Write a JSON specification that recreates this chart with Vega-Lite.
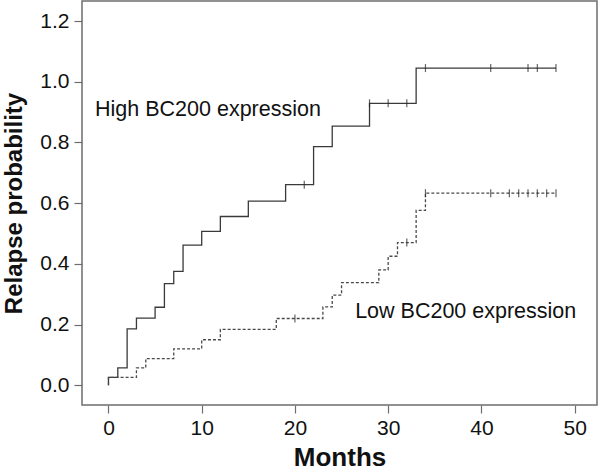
{
  "$schema": "https://vega.github.io/schema/vega-lite/v6.json",
  "autosize": "none",
  "width": 515,
  "height": 404,
  "padding": {"left": 82, "top": 1, "right": 4, "bottom": 65},
  "background": "white",
  "config": {
    "view": {"stroke": "#6e6e6e", "strokeWidth": 1.5},
    "font": "Liberation Sans",
    "axis": {"domain": false, "grid": false, "tickColor": "#6e6e6e", "tickSize": 8, "tickWidth": 1.2, "labelFont": "Liberation Sans", "labelFontSize": 21, "labelColor": "#111", "titleFont": "Liberation Sans", "titleFontWeight": "bold", "titleColor": "#111"}
  },
  "datasets": {
    "curves": [
      {"group": "High", "t": 0, "p": 0},
      {"group": "High", "t": 0, "p": 0.026},
      {"group": "High", "t": 1, "p": 0.057},
      {"group": "High", "t": 2, "p": 0.186},
      {"group": "High", "t": 3, "p": 0.221},
      {"group": "High", "t": 5, "p": 0.257},
      {"group": "High", "t": 6, "p": 0.335},
      {"group": "High", "t": 7, "p": 0.375},
      {"group": "High", "t": 8, "p": 0.462},
      {"group": "High", "t": 10, "p": 0.507},
      {"group": "High", "t": 12, "p": 0.556},
      {"group": "High", "t": 15, "p": 0.607},
      {"group": "High", "t": 19, "p": 0.661},
      {"group": "High", "t": 22, "p": 0.786},
      {"group": "High", "t": 24, "p": 0.854},
      {"group": "High", "t": 28, "p": 0.929},
      {"group": "High", "t": 33, "p": 1.045},
      {"group": "High", "t": 48, "p": 1.045},
      {"group": "Low", "t": 0, "p": 0},
      {"group": "Low", "t": 0, "p": 0.026},
      {"group": "Low", "t": 3, "p": 0.057},
      {"group": "Low", "t": 4, "p": 0.088},
      {"group": "Low", "t": 7, "p": 0.12},
      {"group": "Low", "t": 10, "p": 0.15},
      {"group": "Low", "t": 12, "p": 0.184},
      {"group": "Low", "t": 18, "p": 0.22},
      {"group": "Low", "t": 23, "p": 0.258},
      {"group": "Low", "t": 24, "p": 0.297},
      {"group": "Low", "t": 25, "p": 0.338},
      {"group": "Low", "t": 29, "p": 0.38},
      {"group": "Low", "t": 30, "p": 0.425},
      {"group": "Low", "t": 31, "p": 0.47},
      {"group": "Low", "t": 33, "p": 0.576},
      {"group": "Low", "t": 34, "p": 0.633},
      {"group": "Low", "t": 48, "p": 0.633}
    ],
    "censored": [
      {"group": "High", "t": 21, "p": 0.661},
      {"group": "High", "t": 28, "p": 0.929},
      {"group": "High", "t": 30, "p": 0.929},
      {"group": "High", "t": 32, "p": 0.929},
      {"group": "High", "t": 34, "p": 1.045},
      {"group": "High", "t": 41, "p": 1.045},
      {"group": "High", "t": 45, "p": 1.045},
      {"group": "High", "t": 46, "p": 1.045},
      {"group": "High", "t": 48, "p": 1.045},
      {"group": "Low", "t": 20, "p": 0.22},
      {"group": "Low", "t": 32, "p": 0.47},
      {"group": "Low", "t": 34, "p": 0.633},
      {"group": "Low", "t": 41, "p": 0.633},
      {"group": "Low", "t": 43, "p": 0.633},
      {"group": "Low", "t": 44, "p": 0.633},
      {"group": "Low", "t": 45, "p": 0.633},
      {"group": "Low", "t": 46, "p": 0.633},
      {"group": "Low", "t": 47, "p": 0.633},
      {"group": "Low", "t": 48, "p": 0.633}
    ],
    "labels": [
      {"text": "High BC200 expression", "t": -1.44, "p": 0.887},
      {"text": "Low BC200 expression", "t": 26.46, "p": 0.223}
    ]
  },
  "encoding": {
    "x": {"field": "t", "type": "quantitative", "scale": {"domain": [-2.84, 52.4], "nice": false, "zero": false},
      "axis": {"values": [0, 10, 20, 30, 40, 50], "title": "Months", "titleFontSize": 26, "titlePadding": 6, "labelPadding": 4}},
    "y": {"field": "p", "type": "quantitative", "scale": {"domain": [-0.065, 1.266], "nice": false, "zero": false},
      "axis": {"values": [0, 0.2, 0.4, 0.6, 0.8, 1.0, 1.2], "format": ".1f", "title": "Relapse probability", "titleFontSize": 24, "titlePadding": 13, "labelPadding": 5}}
  },
  "layer": [
    {
      "data": {"name": "curves"},
      "transform": [{"filter": "datum.group === 'High'"}],
      "mark": {"type": "line", "interpolate": "step-after", "color": "#3a3a3a", "strokeWidth": 1.3}
    },
    {
      "data": {"name": "curves"},
      "transform": [{"filter": "datum.group === 'Low'"}],
      "mark": {"type": "line", "interpolate": "step-after", "color": "#4a4a4a", "strokeWidth": 1.3, "strokeDash": [3, 2]}
    },
    {
      "data": {"name": "censored"},
      "mark": {"type": "tick", "orient": "vertical", "color": "#222", "size": 8, "thickness": 1.2}
    },
    {
      "data": {"name": "labels"},
      "mark": {"type": "text", "align": "left", "baseline": "alphabetic", "fontSize": 21.5, "color": "#111", "font": "Liberation Sans"},
      "encoding": {"text": {"field": "text"}}
    }
  ]
}
